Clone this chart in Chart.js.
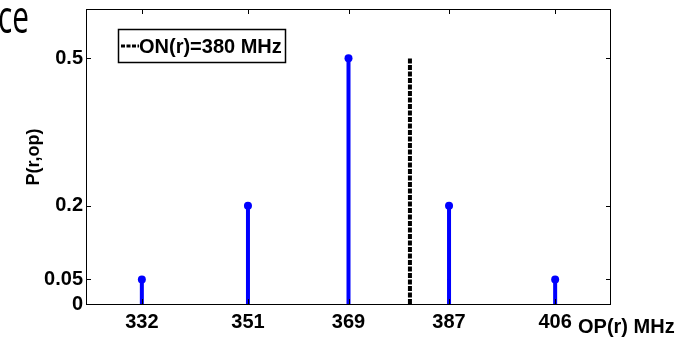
<!DOCTYPE html>
<html lang="en">
  <head>
    <meta charset="UTF-8" />
    <title>P(r,op)</title>
    <script src="https://cdn.jsdelivr.net/npm/chart.js"></script>
    <style>
      body { margin: 0; background: #fff; }
      #wrap { width: 686px; height: 341px; position: relative; }
    </style>
  </head>
  <body>
    <div id="wrap"><canvas id="stemChart"></canvas></div>

    <script>
      // data
      const freqs = [332, 351, 369, 387, 406];
      const probs = [0.05, 0.2, 0.5, 0.2, 0.05];
      const onFreq = 380;
      const onTop = 0.5;
      const xTicks = [332, 351, 369, 387, 406];
      const yTicks = [0, 0.05, 0.2, 0.5];

      // stems: bottom, top, gap
      const stemData = [];
      freqs.forEach((f, i) => {
        stemData.push({ x: f, y: 0 });
        stemData.push({ x: f, y: probs[i] });
        stemData.push({ x: f, y: null });
      });

      const FONT = "'Liberation Sans', Arial, sans-serif";

      // box, inward ticks, labels, legend
      const decor = {
        id: "decor",
        afterDraw(chart) {
          const { ctx, chartArea: a, scales } = chart;
          ctx.save();
          ctx.strokeStyle = "#000";
          ctx.lineWidth = 1;
          ctx.strokeRect(a.left + 0.5, a.top + 0.5, a.right - a.left - 1, a.bottom - a.top);
          ctx.beginPath();
          xTicks.forEach((v) => {
            const x = Math.round(scales.x.getPixelForValue(v)) + 0.5;
            ctx.moveTo(x, a.bottom); ctx.lineTo(x, a.bottom - 5);
            ctx.moveTo(x, a.top); ctx.lineTo(x, a.top + 5);
          });
          yTicks.forEach((v) => {
            const y = Math.round(scales.y.getPixelForValue(v)) + 0.5;
            ctx.moveTo(a.left, y); ctx.lineTo(a.left + 5, y);
            ctx.moveTo(a.right, y); ctx.lineTo(a.right - 5, y);
          });
          ctx.stroke();

          // axis titles
          ctx.fillStyle = "#000";
          ctx.font = "bold 20px " + FONT;
          ctx.textBaseline = "alphabetic";
          ctx.textAlign = "left";
          ctx.fillText("OP(r) MHz", 578, 333);
          ctx.save();
          ctx.translate(39, 157);
          ctx.rotate(-Math.PI / 2);
          ctx.textAlign = "center";
          ctx.font = "bold 18px " + FONT;
          ctx.fillText("P(r,op)", 0, 0);
          ctx.restore();

          // legend
          ctx.lineWidth = 1.5;
          ctx.strokeRect(118.5, 29.5, 167, 33);
          ctx.beginPath();
          ctx.setLineDash([4, 1.5]);
          ctx.lineWidth = 3;
          ctx.moveTo(121, 46); ctx.lineTo(139, 46);
          ctx.stroke();
          ctx.setLineDash([]);
          ctx.font = "bold 20px " + FONT;
          ctx.fillText(chart.data.datasets[1].label, 139, 53);

          // clipped heading text from the slide
          ctx.save();
          ctx.scale(0.66, 1);
          ctx.font = "45px 'Open Sans', sans-serif";
          ctx.fillText("ce", -3, 33);
          ctx.restore();
          ctx.restore();
        },
      };

      new Chart(document.getElementById("stemChart"), {
        type: "scatter",
        data: {
          datasets: [
            {
              label: "P(r,op)",
              data: stemData,
              showLine: true,
              spanGaps: false,
              borderColor: "#0000ff",
              backgroundColor: "#0000ff",
              borderWidth: 4,
              pointRadius: (c) => (c.raw && c.raw.y > 0 ? 4 : 0),
              pointBorderWidth: 0,
            },
            {
              label: "ON(r)=" + onFreq + " MHz",
              data: [{ x: onFreq, y: 0 }, { x: onFreq, y: onTop }],
              showLine: true,
              borderColor: "#000",
              borderWidth: 4,
              borderDash: [5, 1.5],
              pointRadius: 0,
            },
          ],
        },
        options: {
          responsive: true,
          maintainAspectRatio: false,
          animation: false,
          layout: { padding: { left: 0, top: 9, right: 75, bottom: 0 } },
          plugins: { legend: { display: false }, tooltip: { enabled: false } },
          scales: {
            x: {
              type: "linear",
              min: 322,
              max: 416,
              grid: { display: false, drawTicks: false },
              border: { display: false },
              afterBuildTicks: (s) => { s.ticks = xTicks.map((v) => ({ value: v })); },
              afterFit: (s) => { s.height = 37; s.paddingLeft = 0; s.paddingRight = 0; },
              ticks: {
                padding: 6,
                color: "#000",
                font: { family: FONT, size: 20, weight: "bold" },
                callback: (v) => v,
              },
            },
            y: {
              min: 0,
              max: 0.6,
              grid: { display: false, drawTicks: false },
              border: { display: false },
              afterBuildTicks: (s) => { s.ticks = yTicks.map((v) => ({ value: v })); },
              afterFit: (s) => { s.width = 86; s.paddingTop = 0; s.paddingBottom = 0; },
              ticks: {
                padding: 3,
                color: "#000",
                font: { family: FONT, size: 20, weight: "bold" },
                callback: (v) => v,
              },
            },
          },
        },
        plugins: [decor],
      });
    </script>
  </body>
</html>
